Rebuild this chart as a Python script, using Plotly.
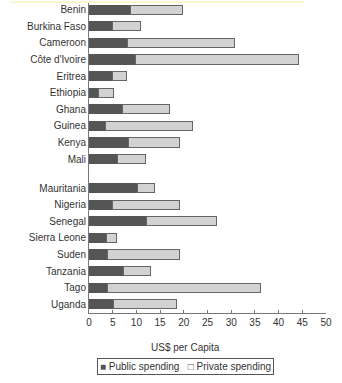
import plotly.graph_objects as go

countries = ["Benin", "Burkina Faso", "Cameroon", "Côte d'Ivoire", "Eritrea", "Ethiopia",
             "Ghana", "Guinea", "Kenya", "Mali",
             "Mauritania", "Nigeria", "Senegal", "Sierra Leone", "Suden", "Tanzania",
             "Tago", "Uganda"]
public = [8.7, 4.9, 8.2, 9.9, 4.9, 2.1, 7.0, 3.4, 8.4, 6.1,
          10.3, 4.9, 12.2, 3.6, 3.9, 7.2, 3.9, 5.1]
total = [19.8, 10.8, 30.8, 44.1, 8.0, 5.1, 16.9, 21.9, 19.1, 11.9,
         13.9, 19.1, 26.9, 5.8, 19.1, 12.9, 36.1, 18.4]
private = [round(t - p, 2) for t, p in zip(total, public)]
# row positions: two groups separated by a gap
ypos = list(range(10)) + [10.75 + i for i in range(8)]
xticks = [0, 5, 10, 15, 20, 25, 30, 35, 40, 45, 50]

font = dict(family="Liberation Sans, Arial, sans-serif", size=10, color="#333333")

fig = go.Figure()
fig.add_trace(go.Bar(
    y=ypos, x=public, orientation="h", name="Public spending",
    marker=dict(color="#555555", line=dict(color="#555555", width=1)),
    width=0.55,
))
fig.add_trace(go.Bar(
    y=ypos, x=private, orientation="h", name="Private spending",
    marker=dict(color="#d2d2d2", line=dict(color="#666666", width=1)),
    width=0.55,
))

fig.update_layout(
    barmode="stack",
    width=342, height=383,
    margin=dict(l=89, r=16, t=3, b=70),
    paper_bgcolor="white", plot_bgcolor="white",
    font=font,
    showlegend=False,
    xaxis=dict(range=[0, 50], tickvals=xticks, ticks="inside", ticklen=3,
               tickcolor="#777777", showline=True, linecolor="#777777", linewidth=1,
               showgrid=False, zeroline=False, fixedrange=True),
    yaxis=dict(range=[18.27, -0.4], tickvals=ypos, ticktext=countries, ticks="",
               showline=True, linecolor="#777777", linewidth=1, showgrid=False,
               zeroline=False, fixedrange=True),
)
pw = 237.0
ph = 310.0
fig.add_annotation(text="US$ per Capita", xref="paper", yref="paper",
                   x=(185 - 89) / pw, y=(313 - 348) / ph, xanchor="center", yanchor="middle",
                   showarrow=False, font=dict(size=10, color="#333333"))
# legend box
legend_text = ("<span style='color:#555555'>■</span> Public spending"
               "&nbsp;&nbsp;&nbsp;<span style='color:#555555'>□</span> Private spending")
fig.add_annotation(text=legend_text, xref="paper", yref="paper",
                   x=(185 - 89) / pw, y=(313 - 366) / ph, xanchor="center", yanchor="middle",
                   showarrow=False, font=dict(size=10, color="#333333"),
                   bordercolor="#555555", borderwidth=1, borderpad=2, bgcolor="white")
fig.add_shape(type="line", xref="paper", yref="paper",
              x0=(10 - 89) / pw, x1=(304 - 89) / pw, y0=1.003, y1=1.003,
              line=dict(color="#f2f0a0", width=1))

fig.write_html("out.html")
